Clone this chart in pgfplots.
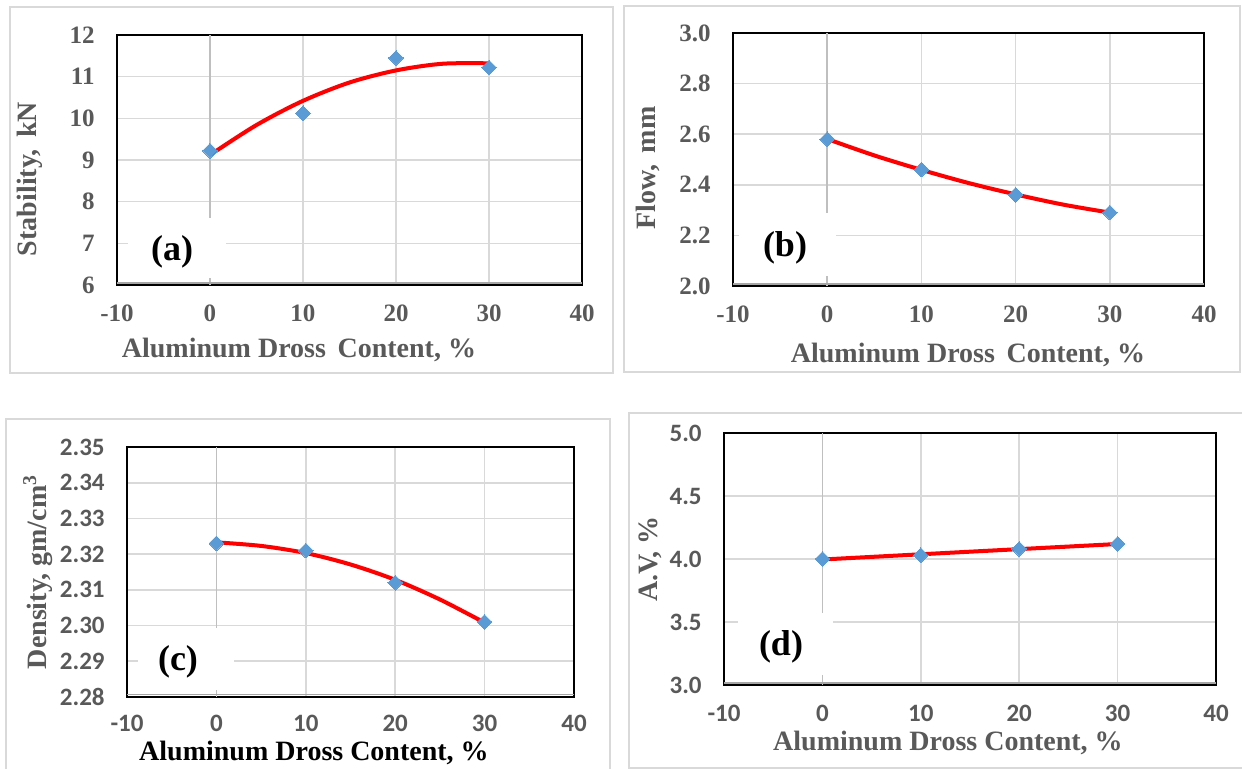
\documentclass[border=0pt]{standalone}
\usepackage{pgfplots}
\pgfplotsset{compat=1.18}
\usepackage{fontspec}
\setmainfont{Liberation Serif}
\newfontfamily\calfont{Carlito}

\definecolor{tickgray}{HTML}{595959}
\definecolor{gridgray}{HTML}{D9D9D9}
\definecolor{zerogray}{HTML}{BFBFBF}
\definecolor{markblue}{HTML}{5B9BD5}

\pgfplotsset{
  panel/.style={
    scale only axis, anchor=north west, clip=false,
    xmin=-10, xmax=40, xtick={-10,0,10,20,30,40},
    xticklabels={-10,0,10,20,30,40},
    grid=major, grid style={gridgray, line width=0.8pt},
    axis line style={black, line width=1pt},
    major tick length=0pt, tick style={draw=none},
    /pgf/number format/assume math mode=true,
    ticklabel style={font=\fontsize{12.5}{14}\selectfont\bfseries, text=tickgray, inner sep=0pt},
    xticklabel style={anchor=center, yshift=-14pt},
    yticklabel style={anchor=east, xshift=-11pt},
  },
  calibri/.style={ticklabel style={font=\fontsize{12.5}{14}\selectfont\calfont\bfseries}},
  pts/.style={only marks, color=markblue, mark=square*, mark size=2.6pt,
    mark options={solid, rotate=45, fill=markblue, draw=markblue, line width=0pt}},
  trend/.style={red, line width=2pt, smooth, no marks},
}

\begin{document}
\begin{tikzpicture}

% (a) stability
\begin{axis}[panel, at={(58.5pt,-17.5pt)}, width=232.5pt, height=125pt,
  ymin=6, ymax=12, ytick={6,7,8,9,10,11,12}]
  \draw[zerogray, line width=0.8pt] (axis cs:0,6) -- (axis cs:0,12);
  \draw[gray!70, line width=0.6pt] (axis cs:-10,6.05) -- (axis cs:40,6.05);
  \addplot[pts] coordinates {(0,9.22) (10,10.12) (20,11.45) (30,11.22)};
  \addplot[trend] coordinates {(0,9.12) (5,9.84) (10,10.42) (15,10.86) (20,11.15) (25,11.31) (30,11.32)};
\end{axis}

% (b) flow
\begin{axis}[panel, at={(366.5pt,-16.5pt)}, width=235.5pt, height=126.5pt,
  ymin=2, ymax=3, ytick={2,2.2,2.4,2.6,2.8,3}, yticklabels={2.0,2.2,2.4,2.6,2.8,3.0}]
  \draw[zerogray, line width=0.8pt] (axis cs:0,2) -- (axis cs:0,3);
  \draw[gray!70, line width=0.6pt] (axis cs:-10,2.008) -- (axis cs:40,2.008);
  \addplot[pts] coordinates {(0,2.58) (10,2.46) (20,2.36) (30,2.29)};
  \addplot[trend] coordinates {(0,2.581) (5,2.516) (10,2.459) (15,2.407) (20,2.362) (25,2.322) (30,2.290)};
\end{axis}

% (c) density
\begin{axis}[panel, calibri, at={(63.5pt,-223.5pt)}, width=223.5pt, height=125pt,
  xticklabel style={yshift=1pt},
  ymin=2.28, ymax=2.35, ytick={2.28,2.29,2.30,2.31,2.32,2.33,2.34,2.35},
  yticklabels={2.28,2.29,2.30,2.31,2.32,2.33,2.34,2.35}]
  \draw[zerogray, line width=0.8pt] (axis cs:0,2.28) -- (axis cs:0,2.35);
  \draw[gray!70, line width=0.6pt] (axis cs:-10,2.2806) -- (axis cs:40,2.2806);
  \addplot[pts] coordinates {(0,2.323) (10,2.321) (20,2.312) (30,2.301)};
  \addplot[trend] coordinates {(0,2.3233) (5,2.3223) (10,2.3203) (15,2.3171) (20,2.3128) (25,2.3073) (30,2.3008)};
\end{axis}

% (d) air voids
\begin{axis}[panel, calibri, at={(362pt,-216.5pt)}, width=246pt, height=126pt,
  ymin=3, ymax=5, ytick={3,3.5,4,4.5,5}, yticklabels={3.0,3.5,4.0,4.5,5.0}]
  \draw[zerogray, line width=0.8pt] (axis cs:0,3) -- (axis cs:0,5);
  \draw[gray!70, line width=0.6pt] (axis cs:-10,3.016) -- (axis cs:40,3.016);
  \addplot[pts] coordinates {(0,4.00) (10,4.03) (20,4.08) (30,4.12)};
  \addplot[trend] coordinates {(0,3.996) (15,4.058) (30,4.119)};
\end{axis}

\begin{scope}[x=0.5pt, y=-0.5pt]
  \path[use as bounding box] (0,0) rectangle (1242,769);
  % outer frames
  \draw[gridgray, line width=1pt] (10,7) rectangle (613,373);
  \draw[gridgray, line width=1pt] (624,6) rectangle (1240,372);
  \draw[gridgray, line width=1pt] (6,775) -- (6,419) -- (610,419) -- (610,775);
  \draw[gridgray, line width=1pt] (1250,413) -- (629,413) -- (629,768) -- (1250,768);
  % panel tags on white boxes
  \fill[white] (128,218) rectangle (226,278);
  \fill[white] (739,213) rectangle (836,276);
  \fill[white] (138,628) rectangle (234,690);
  \fill[white] (738,613) rectangle (833,675);
  \begin{scope}[every node/.style={font=\fontsize{18}{21}\selectfont\bfseries, inner sep=0pt}]
    \node at (172,252) {(a)};
    \node at (785,248) {(b)};
    \node at (178,662) {(c)};
    \node at (781,647) {(d)};
  \end{scope}
  % axis titles
  \begin{scope}[every node/.style={font=\fontsize{14}{16}\selectfont\bfseries, text=tickgray, inner sep=0pt}]
    \node[rotate=90] at (30,179) {Stability,\, kN};
    \node at (299,350) {Aluminum Dross\, Content, \%};
    \node[rotate=90] at (648,168) {Flow,\, mm};
    \node at (968,355) {Aluminum Dross\, Content, \%};
    \node[rotate=90] at (38,572) {Density, gm/cm\textsuperscript{3}};
    \node[text=black] at (314,753) {Aluminum Dross Content, \%};
    \node[rotate=90] at (650,559) {A.V, \%};
    \node at (948,743) {Aluminum Dross Content, \%};
  \end{scope}
\end{scope}

\end{tikzpicture}
\end{document}
